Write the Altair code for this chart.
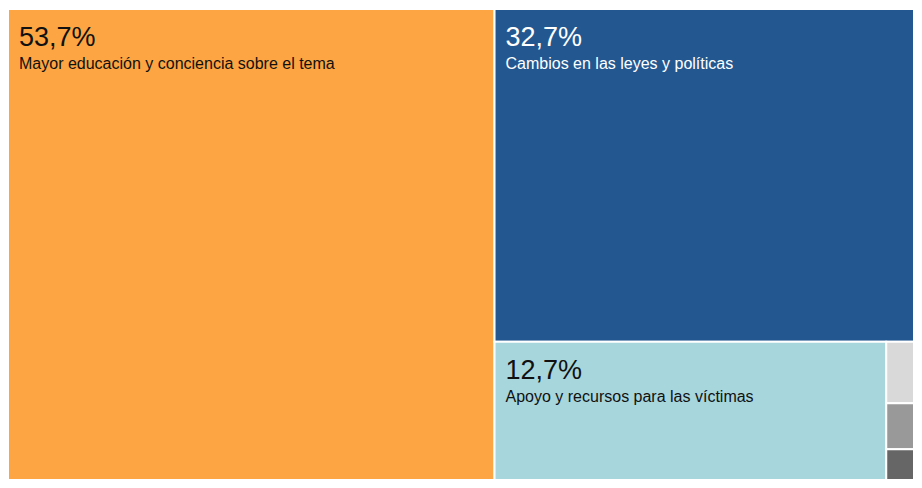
import altair as alt
import pandas as pd

# ---- data ----
labels = [
    "Mayor educación y conciencia sobre el tema",
    "Cambios en las leyes y políticas",
    "Apoyo y recursos para las víctimas",
    "Categoría 4",
    "Categoría 5",
    "Categoría 6",
]
values = [53.7, 32.7, 12.7, 0.4, 0.3, 0.2]
fills = ["#FDA542", "#235790", "#A7D6DD", "#D9D9D9", "#999999", "#666666"]
text_colors = ["#111111", "#FFFFFF", "#111111", "#111111", "#111111", "#111111"]

W, H = 906, 471
PHI = (1 + 5 ** 0.5) / 2


# ---- squarified treemap layout (same algorithm as d3/Vega treemap) ----
def squarify(vals, x0, y0, x1, y1, ratio=PHI):
    rects = [None] * len(vals)
    total = sum(vals)
    i0 = i1 = 0
    n = len(vals)
    while i0 < n:
        dx, dy = x1 - x0, y1 - y0
        s = vals[i1]
        i1 += 1
        mn = mx = s
        alpha = max(dy / dx, dx / dy) / (total * ratio)
        beta = s * s * alpha
        min_ratio = max(mx / beta, beta / mn)
        while i1 < n:
            v = vals[i1]
            s2 = s + v
            mn2, mx2 = min(mn, v), max(mx, v)
            beta = s2 * s2 * alpha
            new_ratio = max(mx2 / beta, beta / mn2)
            if new_ratio > min_ratio:
                break
            s, mn, mx, min_ratio = s2, mn2, mx2, new_ratio
            i1 += 1
        row = list(range(i0, i1))
        if dx < dy:  # dice: horizontal strip at top
            ny = y0 + dy * s / total
            cx = x0
            for k in row:
                w = dx * vals[k] / s
                rects[k] = (cx, y0, cx + w, ny)
                cx += w
            y0 = ny
        else:  # slice: vertical strip at left
            nx = x0 + dx * s / total
            cy = y0
            for k in row:
                h = dy * vals[k] / s
                rects[k] = (x0, cy, nx, cy + h)
                cy += h
            x0 = nx
        total -= s
        i0 = i1
    return rects


rects = squarify(values, 0, 0, W, H)

df = pd.DataFrame({
    "label": labels,
    "value": values,
    "pct": [f"{v:.1f}".replace(".", ",") + "%" for v in values],
    "fill": fills,
    "tcolor": text_colors,
    "x0": [r[0] for r in rects],
    "y0": [r[1] for r in rects],
    "x1": [r[2] for r in rects],
    "y1": [r[3] for r in rects],
})

xs = alt.Scale(domain=[0, W], nice=False, zero=False)
ys = alt.Scale(domain=[0, H], nice=False, zero=False, reverse=True)

base = alt.Chart(df)

boxes = base.mark_rect(stroke="white", strokeWidth=2).encode(
    x=alt.X("x0:Q", scale=xs, axis=None),
    x2="x1:Q",
    y=alt.Y("y0:Q", scale=ys, axis=None),
    y2="y1:Q",
    color=alt.Color("fill:N", scale=None),
)

big = base.transform_filter(alt.datum.value >= 5)

pct_text = big.mark_text(
    align="left", baseline="alphabetic", dx=11, dy=37,
    fontSize=27, font="Liberation Sans",
).encode(
    x=alt.X("x0:Q", scale=xs, axis=None),
    y=alt.Y("y0:Q", scale=ys, axis=None),
    text="pct:N",
    color=alt.Color("tcolor:N", scale=None),
)

lab_text = big.mark_text(
    align="left", baseline="alphabetic", dx=11, dy=60,
    fontSize=16, font="Liberation Sans",
).encode(
    x=alt.X("x0:Q", scale=xs, axis=None),
    y=alt.Y("y0:Q", scale=ys, axis=None),
    text="label:N",
    color=alt.Color("tcolor:N", scale=None),
)

chart = (
    alt.layer(boxes, pct_text, lab_text)
    .properties(
        width=W, height=H,
        autosize=alt.AutoSizeParams(type="none"),
        padding={"left": 0, "top": 1, "right": 0, "bottom": 0},
        background="white",
    )
    .configure_view(stroke=None)
)

chart.save("out.html", embed_options={"renderer": "svg", "actions": False})
